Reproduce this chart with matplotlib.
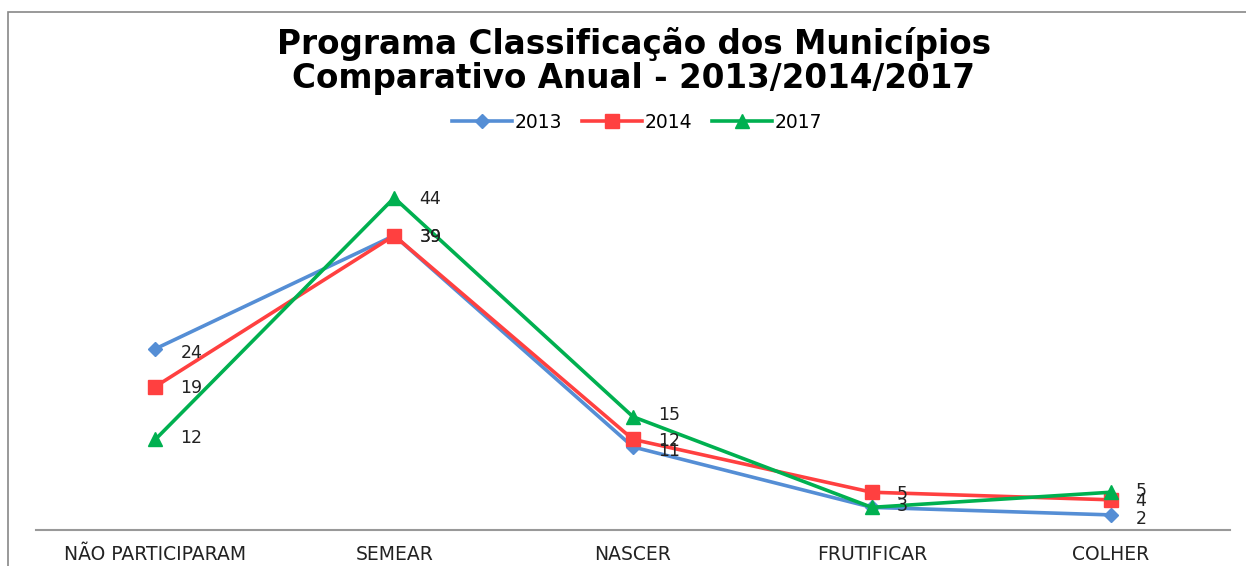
import matplotlib.pyplot as plt
from matplotlib.patches import Rectangle

# data
categorias = ['NÃO PARTICIPARAM', 'SEMEAR', 'NASCER', 'FRUTIFICAR', 'COLHER']
v2013 = [24, 39, 11, 3, 2]
v2014 = [19, 39, 12, 5, 4]
v2017 = [12, 44, 15, 3, 5]

plt.rcParams['font.family'] = ['DejaVu Sans']

fig = plt.figure(figsize=(12.46, 5.66), dpi=100)
fig.set_facecolor('w')

# chart border (cut off at right and bottom)
fig.patches.append(Rectangle((8 / 1246, -0.1), 1.2, 1 - 12 / 566 + 0.1,
                             transform=fig.transFigure, fill=False,
                             edgecolor='#888888', linewidth=1.2))

ax = fig.add_axes([36 / 1246, 1 - 530 / 566, 1194 / 1246, 377.5 / 566])
x = list(range(len(categorias)))

series = [
    ('2013', v2013, '#558ED5', 'D', 7, -3),
    ('2014', v2014, '#FF4040', 's', 10, -1),
    ('2017', v2017, '#00B050', '^', 10, 1),
]
for nome, vals, cor, mk, ms, dy in series:
    ax.plot(x, vals, color=cor, linewidth=2.6, marker=mk, markersize=ms, label=nome)

# data labels
for nome, vals, cor, mk, ms, dy in series:
    for xi, v in zip(x, vals):
        if nome == '2013' and xi == 3:
            continue
        off = dy
        if xi == 1:
            off = -1
        ax.annotate(str(v), (xi, v), xytext=(18, off), textcoords='offset points',
                    ha='left', va='center', fontsize=12.5, color='#222222')

ax.set_xlim(-0.5, len(categorias) - 0.5)
ax.set_ylim(0, 50)
ax.set_xticks(x)
ax.set_xticklabels(categorias, fontsize=13.5, color='#222222')
ax.tick_params(axis='x', length=0, pad=11)
ax.set_yticks([])
for s in ['top', 'right', 'left']:
    ax.spines[s].set_visible(False)
ax.spines['bottom'].set_color('#999999')
ax.spines['bottom'].set_linewidth(1.5)

fig.text(634 / 1246, 1 - 61 / 566, 'Programa Classificação dos Municípios\nComparativo Anual - 2013/2014/2017',
         ha='center', va='center', fontsize=23.5, fontweight='bold', linespacing=1.03)

fig.legend(loc='center', bbox_to_anchor=(637 / 1246, 1 - 122 / 566), ncol=3, frameon=False,
           fontsize=13.5, handlelength=3.2, handletextpad=0.1, columnspacing=1.1)

plt.savefig('out.png', dpi=100)
plt.close()
